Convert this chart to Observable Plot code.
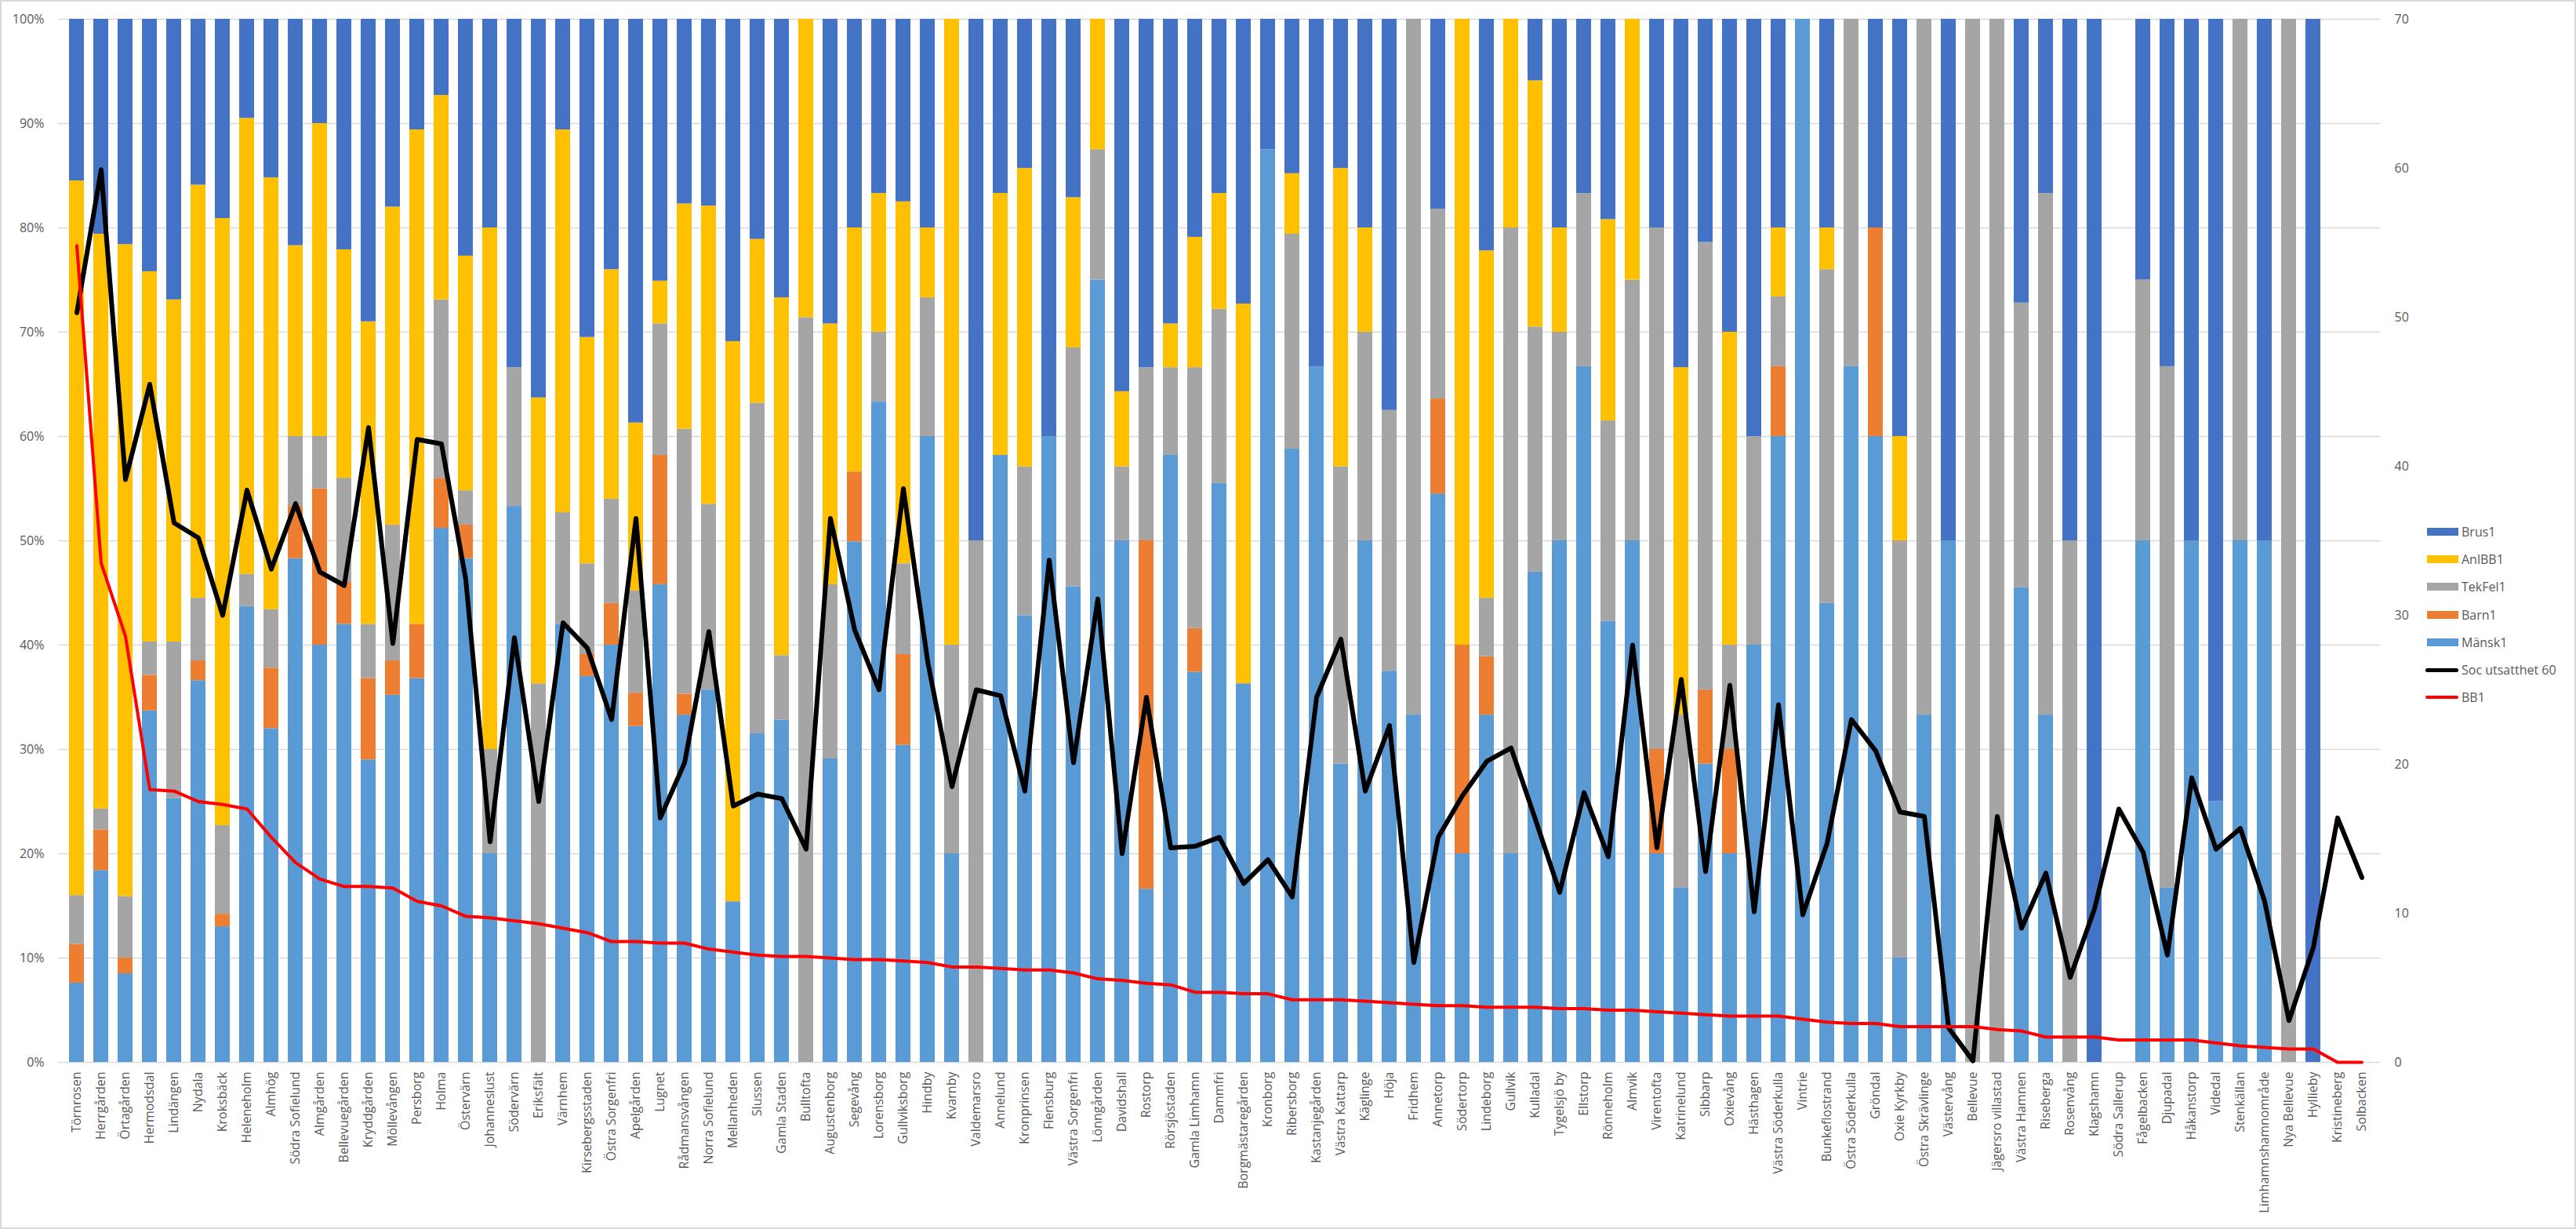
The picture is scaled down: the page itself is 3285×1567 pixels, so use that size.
<!DOCTYPE html>
<html>
<head>
<meta charset="utf-8">
<script src="https://cdn.jsdelivr.net/npm/d3@7"></script>
<script src="https://cdn.jsdelivr.net/npm/@observablehq/plot@0.6"></script>
<style>
  body { margin: 0; background: #fff; }
  #wrap { position: relative; width: 3285px; height: 1567px; font-family: "Open Sans", sans-serif; color: #595959; overflow: hidden; }
  #frame { position: absolute; left: 0; top: 0; width: 3285px; height: 1567px; box-sizing: border-box; border: 2px solid #d9d9d9; pointer-events: none; }
  #legend { position: absolute; left: 3093px; top: 660px; font-size: 16px; }
  .item { display: flex; align-items: center; height: 35.3px; }
  .sw { width: 40px; height: 10px; margin-left: 2px; margin-right: 4px; }
  .ln { width: 42px; margin-right: 4px; border-radius: 3px; }
</style>
</head>
<body>
<div id="wrap"><div id="chart"></div><div id="legend"></div><div id="frame"></div></div>
<script>
const areas = ["Törnrosen","Herrgården","Örtagården","Hermodsdal","Lindängen","Nydala","Kroksbäck","Heleneholm","Almhög","Södra Sofielund",
"Almgården","Bellevuegården","Kryddgården","Möllevången","Persborg","Holma","Östervärn","Johanneslust","Södervärn","Eriksfält",
"Värnhem","Kirsebergsstaden","Östra Sorgenfri","Apelgården","Lugnet","Rådmansvången","Norra Sofielund","Mellanheden","Slussen","Gamla Staden",
"Bulltofta","Augustenborg","Segevång","Lorensborg","Gullviksborg","Hindby","Kvarnby","Valdemarsro","Annelund","Kronprinsen",
"Flensburg","Västra Sorgenfri","Lönngården","Davidshall","Rostorp","Rörsjöstaden","Gamla Limhamn","Dammfri","Borgmästaregården","Kronborg",
"Ribersborg","Kastanjegården","Västra Kattarp","Käglinge","Höja","Fridhem","Annetorp","Södertorp","Lindeborg","Gullvik",
"Kulladal","Tygelsjö by","Ellstorp","Rönneholm","Almvik","Virentofta","Katrinelund","Sibbarp","Oxievång","Hästhagen",
"Västra Söderkulla","Vintrie","Bunkeflostrand","Östra Söderkulla","Gröndal","Oxie Kyrkby","Östra Skrävlinge","Västervång","Bellevue","Jägersro villastad",
"Västra Hamnen","Riseberga","Rosenvång","Klagshamn","Södra Sallerup","Fågelbacken","Djupadal","Håkanstorp","Videdal","Stenkällan",
"Limhamnshamnområde","Nya Bellevue","Hyllieby","Kristineberg","Solbacken"];

// percent shares per area
const mansk = [7.6,18.4,8.5,33.7,25.3,36.6,13.0,43.7,32.0,48.3, 40.0,42.0,29.0,35.2,36.8,51.2,48.3,20.0,53.3,0, 42.0,37.0,40.0,32.2,45.8,33.3,35.7,15.4,31.5,32.8, 0,29.1,49.9,63.3,30.4,60.0,20.0,0,58.2,42.8, 60.0,45.6,75.0,50.0,16.6,58.2,37.4,55.5,36.3,87.5, 58.8,66.7,28.6,50.0,37.5,33.3,54.5,20.0,33.3,20.0, 47.0,50.0,66.7,42.3,50.0,20.0,16.7,28.6,20.0,40.0, 60.0,100,44.0,66.7,60.0,10.0,33.3,50.0,0,0, 45.5,33.3,0,0,0,50.0,16.7,50.0,25.0,50.0, 50.0,0,0,0,0];
const barn = [3.7,3.9,1.5,3.4,0,1.9,1.2,0,5.8,5.0, 15.0,4.0,7.8,3.3,5.2,4.8,3.2,0,0,0, 0,2.1,4.0,3.2,12.4,2.0,0,0,0,0, 0,0,6.7,0,8.7,0,0,0,0,0, 0,0,0,0,33.4,0,4.2,0,0,0, 0,0,0,0,0,0,9.1,20.0,5.6,0, 0,0,0,0,0,10.0,0,7.1,10.0,0, 6.7,0,0,0,20.0,0,0,0,0,0, 0,0,0,0,0,0,0,0,0,0, 0,0,0,0,0];
const tekfel = [4.7,2.0,5.9,3.2,15.0,6.0,8.5,3.1,5.6,6.7, 5.0,10.0,5.2,13.0,0,17.1,3.3,10.0,13.3,36.3, 10.7,8.7,10.0,9.8,12.6,25.4,17.8,0,31.7,6.2, 71.4,16.7,0,6.7,8.7,13.3,20.0,50.0,0,14.3, 0,22.9,12.5,7.1,16.6,8.4,25.0,16.7,0,0, 20.6,0,28.5,20.0,25.0,66.7,18.2,0,5.6,60.0, 23.5,20.0,16.6,19.2,25.0,50.0,16.6,42.9,10.0,20.0, 6.7,0,32.0,33.3,0,40.0,66.7,0,100,100, 27.3,50.0,50.0,0,0,25.0,50.0,0,0,50.0, 0,100,0,0,0];
const anlbb = [68.5,55.1,62.5,35.5,32.8,39.6,58.2,43.7,41.4,18.3, 30.0,21.9,29.0,30.5,47.4,19.6,22.5,50.0,0,27.4, 36.7,21.7,22.0,16.1,4.1,21.6,28.6,53.7,15.7,34.3, 28.6,25.0,23.4,13.3,34.7,6.7,60.0,0,25.1,28.6, 0,14.4,12.5,7.2,0,4.2,12.5,11.1,36.4,0, 5.8,0,28.6,10.0,0,0,0,60.0,33.3,20.0, 23.6,10.0,0,19.3,25.0,0,33.3,0,30.0,0, 6.6,0,4.0,0,0,10.0,0,0,0,0, 0,0,0,0,0,0,0,0,0,0, 0,0,0,0,0];
const brus = [15.5,20.6,21.6,24.2,26.9,15.9,19.1,9.5,15.2,21.7, 10.0,22.1,29.0,18.0,10.6,7.3,22.7,20.0,33.4,36.3, 10.6,30.5,24.0,38.7,25.1,17.7,17.9,30.9,21.1,26.7, 0,29.2,20.0,16.7,17.5,20.0,0,50.0,16.7,14.3, 40.0,17.1,0,35.7,33.4,29.2,20.9,16.7,27.3,12.5, 14.8,33.3,14.3,20.0,37.5,0,18.2,0,22.2,0, 5.9,20.0,16.7,19.2,0,20.0,33.4,21.4,30.0,40.0, 20.0,0,20.0,0,20.0,40.0,0,50.0,0,0, 27.2,16.7,50.0,100,0,25.0,33.3,50.0,75.0,0, 50.0,0,100,0,0];

// right axis (0–70)
const soc = [50.3,59.9,39.1,45.5,36.2,35.2,30.0,38.4,33.1,37.5, 32.9,32.0,42.6,28.1,41.8,41.5,32.4,14.8,28.5,17.5, 29.5,27.8,23.0,36.5,16.4,20.1,28.9,17.2,18.0,17.7, 14.3,36.5,29.0,25.0,38.5,26.9,18.5,25.0,24.6,18.2, 33.7,20.1,31.1,14.0,24.5,14.4,14.5,15.1,12.0,13.6, 11.1,24.5,28.4,18.2,22.6,6.7,15.1,17.9,20.2,21.1, 16.3,11.4,18.1,13.8,28.0,14.4,25.7,12.8,25.3,10.1, 24.0,9.9,14.7,23.0,20.9,16.8,16.5,2.3,0.1,16.5, 9.0,12.7,5.7,10.3,17.0,14.1,7.2,19.1,14.3,15.7, 10.8,2.8,7.7,16.4,12.4];
const bb1 = [54.8,33.5,28.6,18.3,18.2,17.5,17.3,17.0,15.1,13.4, 12.3,11.8,11.8,11.7,10.8,10.5,9.8,9.7,9.5,9.3, 9.0,8.7,8.1,8.1,8.0,8.0,7.6,7.4,7.2,7.1, 7.1,7.0,6.9,6.9,6.8,6.7,6.4,6.4,6.3,6.2, 6.2,6.0,5.6,5.5,5.3,5.2,4.7,4.7,4.6,4.6, 4.2,4.2,4.2,4.1,4.0,3.9,3.8,3.8,3.7,3.7, 3.7,3.6,3.6,3.5,3.5,3.4,3.3,3.2,3.1,3.1, 3.1,2.9,2.7,2.6,2.6,2.4,2.4,2.4,2.4,2.2, 2.1,1.7,1.7,1.7,1.5,1.5,1.5,1.5,1.3,1.1, 1.0,0.9,0.9,0,0];

const seriesNames = ["Mänsk1","Barn1","TekFel1","AnlBB1","Brus1"];
const seriesColors = ["#5b9bd5","#ed7d31","#a5a5a5","#ffc000","#4472c4"];
const seriesValues = [mansk, barn, tekfel, anlbb, brus];
const lineNames = ["Soc utsatthet 60","BB1"];
const lineColors = ["#000000","#ff0000"];
const rightMax = 70;
const leftTicks = d3.range(0, 101, 10);
const rightTicks = d3.range(0, rightMax + 1, 10);

const table = [];
areas.forEach((a, i) => seriesNames.forEach((s, j) => table.push({area: a, series: s, value: seriesValues[j][i]})));
const lines = areas.map((a, i) => ({area: a, soc: soc[i], bb1: bb1[i]}));

const chart = Plot.plot({
  width: 3285,
  height: 1567,
  marginLeft: 74,
  marginRight: 250,
  marginTop: 24,
  marginBottom: 213,
  style: {fontFamily: "'Open Sans', sans-serif", fontSize: "16px", color: "#595959", background: "transparent"},
  x: {domain: areas, paddingInner: 0.375, paddingOuter: 0.1875, label: null},
  y: {domain: [0, 100], label: null},
  color: {domain: seriesNames, range: seriesColors},
  marks: [
    Plot.gridY({ticks: leftTicks, stroke: "#d9d9d9", strokeOpacity: 1, strokeWidth: 1.5}),
    Plot.barY(table, {x: "area", y: "value", fill: "series", order: seriesNames}),
    Plot.line(lines, {x: "area", y: d => d.soc / rightMax * 100, stroke: lineColors[0], strokeWidth: 6}),
    Plot.line(lines, {x: "area", y: d => d.bb1 / rightMax * 100, stroke: lineColors[1], strokeWidth: 4}),
    Plot.axisY({ticks: leftTicks, tickFormat: d => d + "%", tickSize: 0, tickPadding: 18, label: null}),
    Plot.axisY({anchor: "right", ticks: rightTicks.map(v => v / rightMax * 100), tickFormat: d => Math.round(d * rightMax / 100), tickSize: 0, tickPadding: 18, label: null}),
    Plot.axisX({tickRotate: -90, tickSize: 0, tickPadding: 12, label: null})
  ]
});
document.getElementById("chart").appendChild(chart);

// legend
const legend = d3.select("#legend");
const order = [4, 3, 2, 1, 0];
order.forEach(j => {
  const it = legend.append("div").attr("class", "item");
  it.append("div").attr("class", "sw").style("background", seriesColors[j]);
  it.append("span").text(seriesNames[j]);
});
lineNames.forEach((n, k) => {
  const it = legend.append("div").attr("class", "item");
  it.append("div").attr("class", "ln").style("background", lineColors[k]).style("height", k === 0 ? "5px" : "4px");
  it.append("span").text(n);
});
</script>
</body>
</html>
